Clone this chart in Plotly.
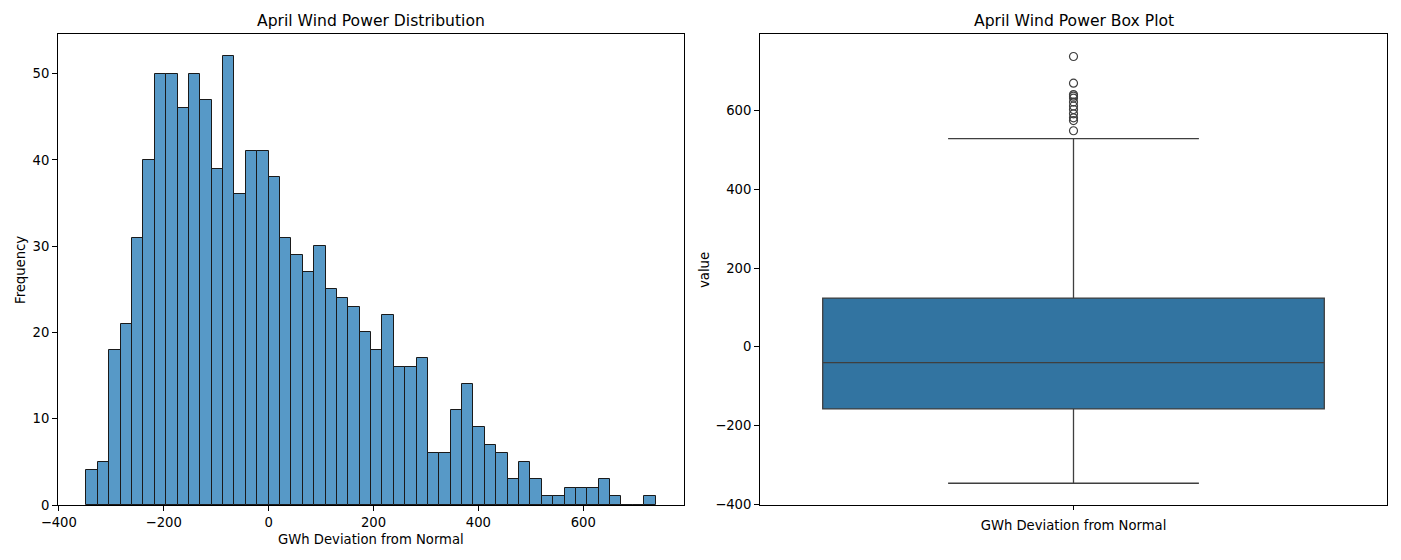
import numpy as np
import plotly.graph_objects as go

# ---------------- data ----------------
hist_min = -347.2
hist_max = 737.8
hist_counts = [4, 5, 18, 21, 31, 40, 50, 50, 46, 50,
               47, 39, 52, 36, 41, 41, 38, 31, 29, 27,
               30, 25, 24, 23, 20, 18, 22, 16, 16, 17,
               6, 6, 11, 14, 9, 7, 6, 3, 5, 3,
               1, 1, 2, 2, 2, 3, 1, 0, 0, 1]
x_ticks = [-400, -200, 0, 200, 400, 600]
y_ticks_hist = [0, 10, 20, 30, 40, 50]

box_category = "GWh Deviation from Normal"
box_q1 = -158.3
box_median = -40.6
box_q3 = 123.6
box_lower = -347.2
box_upper = 529.0
box_outliers = [549, 575, 582, 592, 603, 612, 622, 632, 637, 641, 670, 737.8]
y_ticks_box = [-400, -200, 0, 200, 400, 600]

titles = ["April Wind Power Distribution", "April Wind Power Box Plot"]
xlabel = "GWh Deviation from Normal"
ylabel_hist = "Frequency"
ylabel_box = "value"

# ---------------- derived ----------------
edges = np.linspace(hist_min, hist_max, len(hist_counts) + 1)
centers = (edges[:-1] + edges[1:]) / 2
bw = edges[1] - edges[0]

FONT = "DejaVu Sans"
W, H = 1401, 560
TS = 15.6   # title size
LS = 13.2   # label / tick size

def px_x(p):
    return p / W

def px_y(p):
    return 1 - p / H

fig = go.Figure()

fig.add_trace(go.Bar(
    x=centers, y=hist_counts, width=bw,
    marker=dict(color="rgba(31,119,180,0.75)", line=dict(color="#1a1a1a", width=1)),
    xaxis="x", yaxis="y", showlegend=False, hoverinfo="x+y",
))

fig.add_trace(go.Box(
    x=[box_category], q1=[box_q1], median=[box_median], q3=[box_q3],
    lowerfence=[box_lower], upperfence=[box_upper],
    width=0.8, whiskerwidth=0.5, boxpoints=False,
    fillcolor="#3274a1", line=dict(color="#3f3f3f", width=1.3),
    xaxis="x2", yaxis="y2", showlegend=False,
))

fig.add_trace(go.Scatter(
    x=[box_category] * len(box_outliers), y=box_outliers, mode="markers",
    marker=dict(symbol="circle-open", size=8, color="#3f3f3f", line=dict(width=1.2)),
    xaxis="x2", yaxis="y2", showlegend=False,
))

axis_common = dict(
    showgrid=False, zeroline=False, showline=True, linecolor="black", linewidth=1,
    mirror=True, ticks="outside", ticklen=5, tickwidth=1, tickcolor="black",
    automargin=False,
    tickfont=dict(family=FONT, size=LS, color="black"),
)

fig.update_layout(
    template="none",
    width=W, height=H,
    margin=dict(l=0, r=0, t=0, b=0, pad=0),
    paper_bgcolor="white", plot_bgcolor="white",
    bargap=0,
    font=dict(family=FONT, color="black"),
    xaxis=dict(domain=[px_x(58), px_x(684)], range=[-401.5, 792.0],
               tickvals=x_ticks, anchor="y", **axis_common),
    yaxis=dict(domain=[px_y(505), px_y(34)], range=[0, 54.6],
               tickvals=y_ticks_hist, anchor="x", **axis_common),
    xaxis2=dict(domain=[px_x(760), px_x(1387)], range=[-0.5, 0.5],
                type="category", anchor="y2", **axis_common),
    yaxis2=dict(domain=[px_y(505), px_y(34)], range=[-402.5, 795.0],
                tickvals=y_ticks_box, anchor="x2", **axis_common),
)
fig.update_layout(xaxis2_ticklen=4, xaxis2_ticklabelstandoff=4)

annotations = [
    dict(text=titles[0], x=px_x(371), y=px_y(21), xref="paper", yref="paper",
         showarrow=False, font=dict(family=FONT, size=TS, color="black"),
         xanchor="center", yanchor="middle"),
    dict(text=titles[1], x=px_x(1073.5), y=px_y(21), xref="paper", yref="paper",
         showarrow=False, font=dict(family=FONT, size=TS, color="black"),
         xanchor="center", yanchor="middle"),
    dict(text=xlabel, x=px_x(371), y=px_y(539), xref="paper", yref="paper",
         showarrow=False, font=dict(family=FONT, size=LS, color="black"),
         xanchor="center", yanchor="middle"),
    dict(text=ylabel_hist, x=px_x(20), y=px_y(270), xref="paper", yref="paper",
         showarrow=False, textangle=-90, font=dict(family=FONT, size=LS, color="black"),
         xanchor="center", yanchor="middle"),
    dict(text=ylabel_box, x=px_x(704), y=px_y(270), xref="paper", yref="paper",
         showarrow=False, textangle=-90, font=dict(family=FONT, size=LS, color="black"),
         xanchor="center", yanchor="middle"),
]
fig.update_layout(annotations=annotations)

fig.write_html("out.html")
